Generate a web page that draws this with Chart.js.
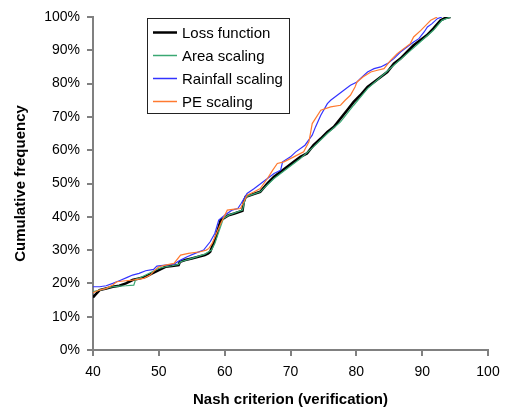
<!DOCTYPE html>
<html>
<head>
<meta charset="utf-8">
<script src="https://cdn.jsdelivr.net/npm/chart.js@4.4.0/dist/chart.umd.min.js"></script>
<style>html,body{margin:0;padding:0;background:#fff}canvas{display:block}</style>
</head>
<body>
<canvas id="c" width="508" height="409"></canvas>
<script>
const xTicks=[40,50,60,70,80,90,100];
const seriesNames=['Loss function','Area scaling','Rainfall scaling','PE scaling'];

const lossX=[40,40.3,41,42,43,44,45,46,47,48,49,50,51,52,53,53.2,54,55,56,57,57.5,57.8,58.6,59.4,60.6,61.5,62.7,62.9,63.2,64.3,65.4,66.5,67.5,68.5,69.5,70.5,71.5,72.5,73.5,74.6,75.6,76.6,77.6,78.6,79.6,80.6,81.7,82.7,83.7,84.7,85.7,86.7,87.7,88.7,89.7,90.7,91.7,92.8,93.5,94.3];
const lossY=[15.8,16.5,18,18.5,19,19.3,20,21,21.5,22,23,24,25,25.2,25.5,26.5,27,27.5,28,28.5,29,29.5,33.5,39,40.5,41,41.8,44.5,46,46.8,47.5,50,52,53.5,55,56.5,58,59,61.5,63.5,65.5,67,69.5,72,74.5,76.5,79,80.5,82,83.5,86,87.5,89.5,91.5,93,94.5,96.5,99,99.7,100];

const areaX=[40,41,43,44,45,46.2,46.5,47,48,49,50,51,52,53,53.3,55,57,58,58.5,59.2,59.8,60.6,62.7,63.2,65.4,67.5,69.5,71.5,73.5,75.6,77.6,79.6,81.7,83.7,85.7,87.7,89.7,91.7,93,94.3];
const areaY=[17.5,18,19,19.2,19.3,19.5,21.3,21.5,22.5,23.5,24.5,25,25.3,25.7,26.5,27.5,28.8,30,32,36,39.5,40.5,42,46,47.5,51.5,54.5,57.5,61,65,68.5,73.5,78.5,82,85.5,89,92.5,96,99,100];

const rainX=[40,41,42,43,44,45.2,46,47,48,49.2,49.7,51,52.3,53.3,54.3,55.5,56.8,57.8,58.5,59.1,60,61.1,62,62.5,63.4,64.5,65.5,66.5,67.5,68.5,68.8,70,70.8,72.2,73.3,73.8,74.6,75.6,76.1,77.1,78.1,79.1,80.1,80.6,81.7,82.7,83.7,84.7,85.7,86.7,87.7,88.7,89.5,90.3,90.8,91.5,92.3,93];
const rainY=[19,19,19.3,20,20.8,21.8,22.5,23,23.8,24.2,25.2,25.5,25.8,27,28,29,30,32.5,35,39,40.5,42,42.5,44,47,48.5,50,51.5,53,54,56.5,58,59.5,61.5,64.5,67,70.5,74,75,76.5,78,79.5,80.5,81.5,83.5,84.5,85,86,87.5,89.5,91,92.5,93.5,95.5,97,98,99.5,100];

const peX=[40,41,42,43,43.6,45,46,47.7,48.7,49.4,50,51,52.3,53.3,54.5,56.3,57.2,57.6,58.1,59.4,60.4,61.5,62.4,63.4,64.5,65.4,66.5,67.3,68,69,70.5,72,72.8,73.3,74.6,76.1,77.6,78.3,79.1,79.8,80.1,81,82.2,83.2,84.2,85.2,86.2,87.2,88.2,88.7,89.8,90.8,91.3,92.3];
const peY=[17.2,18,18.5,19.5,20.5,20.8,21,21.5,22.5,24,25,25.5,26,28.5,29,29.5,30,30.5,32,38,42,42.3,42.5,46.5,47.5,48.5,51.5,54,56,56.5,58,59.5,62.5,68,72,73,73.5,75,76.5,79,80.5,82,83.5,84,84.5,87,89,90.5,92,94,96,98,99,100];

const pts=(xs,ys)=>xs.map((x,i)=>({x,y:ys[i]}));
const FONT="'Liberation Sans', Arial, sans-serif";

const boxLegend={id:'boxLegend',afterDatasetsDraw(chart){
  const ctx=chart.ctx; ctx.save();
  ctx.fillStyle='#fff'; ctx.fillRect(147.5,18.5,142,95);
  ctx.strokeStyle='#222'; ctx.lineWidth=1; ctx.strokeRect(147.5,18.5,142,95);
  ctx.font='15px '+FONT; ctx.textBaseline='middle'; ctx.fillStyle='#000';
  chart.data.datasets.forEach((d,i)=>{
    const y=Math.round(31.5+i*23.3)+0.5;
    ctx.strokeStyle=d.borderColor; ctx.lineWidth=d.borderWidth>2?2.5:1.5;
    ctx.beginPath(); ctx.moveTo(153,y); ctx.lineTo(177,y); ctx.stroke();
    ctx.fillText(d.label,182,y+1);
  });
  ctx.restore();
}};

const ds=(i,xs,ys,color,w)=>({label:seriesNames[i],data:pts(xs,ys),borderColor:color,backgroundColor:color,borderWidth:w,pointRadius:0,tension:0,showLine:true,order:4-i});

new Chart(document.getElementById('c'),{
  type:'scatter',
  data:{datasets:[
    ds(0,lossX,lossY,'#000000',2.6),
    ds(1,areaX,areaY,'#3aa873',1.2),
    ds(2,rainX,rainY,'#3333ff',1.2),
    ds(3,peX,peY,'#ff7a30',1.2)
  ]},
  options:{
    responsive:false,animation:false,devicePixelRatio:1,
    layout:{padding:{top:17,right:20,left:0,bottom:0}},
    plugins:{legend:{display:false},tooltip:{enabled:false}},
    scales:{
      x:{type:'linear',min:40,max:100,
        afterBuildTicks:s=>{s.ticks=xTicks.map(v=>({value:v}));},
        afterFit:s=>{s.height=59;},
        grid:{drawOnChartArea:false,drawTicks:true,tickLength:6,color:'#808080',lineWidth:2},
        border:{color:'#808080',width:2},
        ticks:{color:'#000',padding:8,font:{family:FONT,size:14},maxRotation:0},
        title:{display:true,text:'Nash criterion (verification)',color:'#000',font:{family:FONT,size:15,weight:'bold'},padding:{top:4,bottom:0}}
      },
      y:{min:0,max:100,
        afterFit:s=>{s.width=93;},
        grid:{drawOnChartArea:false,drawTicks:true,tickLength:6,color:'#808080',lineWidth:2},
        border:{color:'#808080',width:2},
        ticks:{stepSize:10,color:'#000',padding:7,font:{family:FONT,size:14},callback:v=>v+'%'},
        title:{display:true,text:'Cumulative frequency',color:'#000',font:{family:FONT,size:15,weight:'bold'},padding:{top:11.5,bottom:0}}
      }
    }
  },
  plugins:[boxLegend]
});
</script>
</body>
</html>
